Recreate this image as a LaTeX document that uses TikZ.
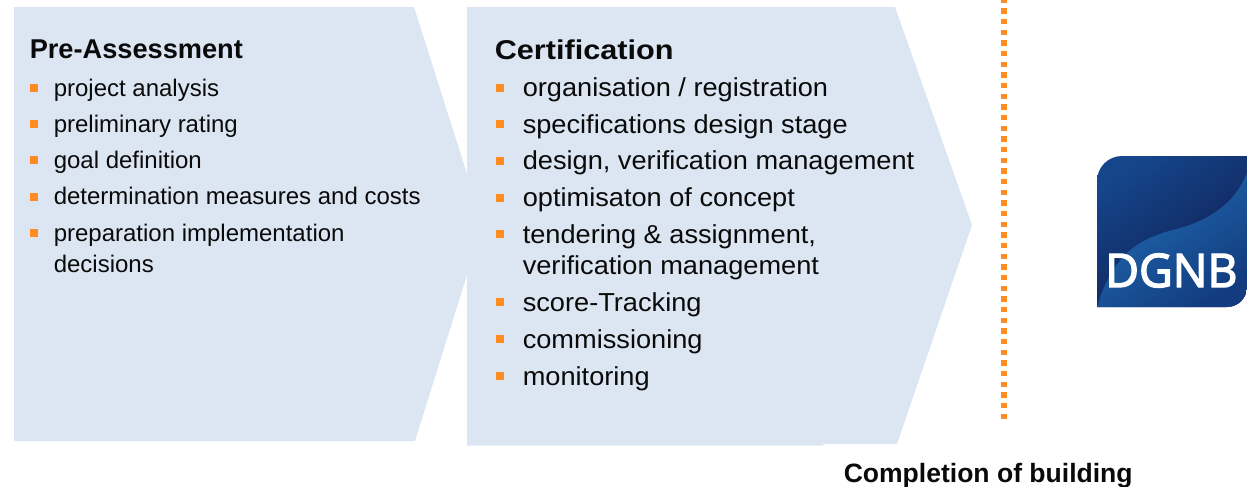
\documentclass[tikz,border=0pt]{standalone}
\usepackage{fontspec}
\setmainfont{Liberation Sans}
\newfontfamily\logofont[FakeBold=3]{Open Sans}
\newfontfamily\certhead[FakeStretch=1.127]{Liberation Sans}
\newfontfamily\certbody[FakeStretch=1.046]{Liberation Sans}
\definecolor{panelblue}{HTML}{DCE6F2}
\definecolor{bulletorange}{HTML}{FF8C21}
\definecolor{txtblack}{HTML}{0A0A0A}
\definecolor{logotopA}{HTML}{15458A}
\definecolor{logotopB}{HTML}{101C50}
\definecolor{logolowA}{HTML}{216CB2}
\definecolor{logolowB}{HTML}{133C80}
\tikzset{
  panel/.style={fill=panelblue,draw=none},
  headleft/.style={anchor=base west,inner sep=0pt,font=\fontsize{20.4pt}{24pt}\selectfont\bfseries,text=txtblack},
  headright/.style={anchor=base west,inner sep=0pt,font=\certhead\fontsize{20.4pt}{24pt}\selectfont\bfseries,text=txtblack},
  lefttext/.style={anchor=base west,inner sep=0pt,font=\fontsize{18pt}{22pt}\selectfont,text=txtblack},
  righttext/.style={anchor=base west,inner sep=0pt,font=\certbody\fontsize{19.5pt}{24pt}\selectfont,text=txtblack},
  bulletmark/.style={fill=bulletorange,draw=none,inner sep=0pt,minimum size=6pt,rectangle},
}
\begin{document}
\begin{tikzpicture}[x=0.75pt,y=-0.75pt]
\useasboundingbox (0,0) rectangle (1247,486);
% panels
\path[panel] (14,7) -- (414,7) -- (483,224) -- (415,441) -- (14,441) -- cycle;
\path[panel] (467,7) -- (895,7) -- (972,225) -- (897,444) -- (823,444) -- (823,445.5) -- (467,445.5) -- cycle;
% left
\node[headleft] (h1) at (29.5,58) {Pre-Assessment};
\node[bulletmark] (lb1) at (34,87.5) {};
\node[lefttext] (l1) at (53.5,96) {project analysis};
\node[bulletmark] (lb2) at (34,124) {};
\node[lefttext] (l2) at (53.5,132) {preliminary rating};
\node[bulletmark] (lb3) at (34,160) {};
\node[lefttext] (l3) at (53.5,168) {goal definition};
\node[bulletmark] (lb4) at (34,196.5) {};
\node[lefttext] (l4) at (53.5,204.5) {determination measures and costs};
\node[bulletmark] (lb5) at (34,233) {};
\node[lefttext] (l5) at (53.5,241) {preparation implementation};
\node[lefttext] (l5b) at (53.5,272) {decisions};
% right
\node[headright] (h2) at (494.5,59) {Certification};
\node[bulletmark] (rb1) at (500,87.5) {};
\node[righttext] (r1) at (522.5,96.5) {organisation / registration};
\node[bulletmark] (rb2) at (500,124.3) {};
\node[righttext] (r2) at (522.5,133.5) {specifications design stage};
\node[bulletmark] (rb3) at (500,161) {};
\node[righttext] (r3) at (522.5,169.5) {design, verification management};
\node[bulletmark] (rb4) at (500,197.7) {};
\node[righttext] (r4) at (522.5,206.5) {optimisaton of concept};
\node[bulletmark] (rb5) at (500,234) {};
\node[righttext] (r5) at (522.5,243.5) {tendering \& assignment,};
\node[righttext] (r5b) at (522.5,274.5) {verification management};
\node[bulletmark] (rb6) at (500,302) {};
\node[righttext] (r6) at (522.5,311.5) {score-Tracking};
\node[bulletmark] (rb7) at (500,339) {};
\node[righttext] (r7) at (522.5,348.5) {commissioning};
\node[bulletmark] (rb8) at (500,376) {};
\node[righttext] (r8) at (522.5,385.5) {monitoring};
% milestone line
\coordinate (mstart) at (1004,419);
\coordinate (mend) at (1004,0);
\draw[bulletorange,line width=4.2pt,dash pattern=on 4.1pt off 3.9pt] (mstart) -- (mend);
\node[anchor=base west,inner sep=0pt,font=\fontsize{19.9pt}{24pt}\selectfont\bfseries,text=txtblack] (done) at (843.5,482) {Completion of building};
% logo
\begin{scope}
\clip (1097,307) -- (1097,181) arc[start angle=180,end angle=90,x radius=25,y radius=-25] -- (1247,156) -- (1247,287) arc[start angle=0,end angle=90,x radius=20,y radius=20] -- cycle;
\shade[shading=axis,top color=logotopA,bottom color=logotopB,shading angle=35] (1097,156) rectangle (1247,307);
\shade[shading=axis,top color=logolowA,bottom color=logolowB,shading angle=35]
  (1247,173) .. controls (1234,205) and (1208,220) .. (1180,228)
  .. controls (1150,236) and (1115,245) .. (1097,307)
  -- (1247,307) -- cycle;
\end{scope}
\node[anchor=base west,inner sep=0pt,font=\logofont\fontsize{34.7pt}{40pt}\selectfont,text=white] (logo) at (1105,287) {DGNB};
\end{tikzpicture}
\end{document}
